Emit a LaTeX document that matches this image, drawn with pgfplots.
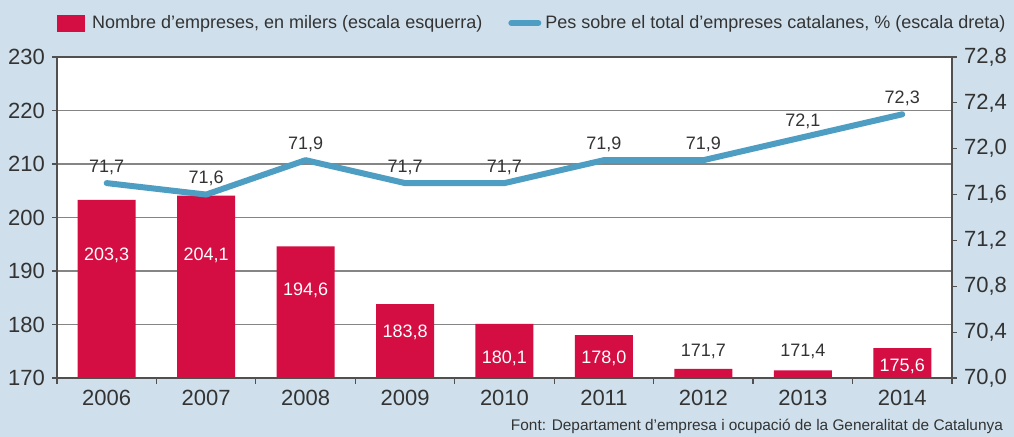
\documentclass[border=0pt]{standalone}
\usepackage{pgfplots}
\pgfplotsset{compat=1.18}
\usepackage{fontspec}
\setmainfont{Liberation Sans}

\definecolor{fons}{HTML}{CFE0EC}
\definecolor{vermell}{HTML}{D40D42}
\definecolor{blau}{HTML}{4E9DC2}
\definecolor{text}{HTML}{333333}
\definecolor{graella}{HTML}{858585}

% nombre d'empreses (milers)
\pgfplotstableread{
x y
0 203.3
1 204.1
2 194.6
3 183.8
4 180.1
5 178.0
6 171.7
7 171.4
8 175.6
}\empreses

% posicio de les etiquetes dins les barres
\pgfplotstableread{
x lab val
0 193.0 203.3
1 193.0 204.1
2 186.3 194.6
3 178.6 183.8
4 173.6 180.1
5 173.6 178.0
8 172.2 175.6
}\etiqdins

\pgfplotstableread{
x lab val
6 175.0 171.7
7 175.0 171.4
}\etiqfora

% pes sobre el total (%)
\pgfplotstableread{
x y
0 71.7
1 71.6
2 71.9
3 71.7
4 71.7
5 71.9
6 71.9
7 72.1
8 72.3
}\pes

\begin{document}
\begin{tikzpicture}[font=\fontsize{11}{13}\selectfont, text=text]
\fill[fons] (-28.5pt,-29.5pt) rectangle (478.5pt,189pt);
\pgfplotsset{comu/.style={
  width=447.5pt, height=160.5pt, scale only axis,
  xmin=-0.5, xmax=8.5,
  /pgf/number format/assume math mode=true,
  tick align=outside, major tick length=2.5pt,
  tick style={graella!60!black, line width=0.6pt},
  axis line style={graella!60!black, line width=0.6pt},
}}
\begin{axis}[comu,
  ymin=170, ymax=230, ytick={170,180,...,230},
  ymajorgrids, grid style={graella, line width=0.6pt},
  axis background/.style={fill=white},
  xtick={0,...,8},
  xticklabels={2006,2007,2008,2009,2010,2011,2012,2013,2014},
  major x tick style={draw=none},
  minor xtick={-0.5,0.5,...,8.5}, minor tick length=3pt,
  xtick pos=bottom, ytick pos=left,
]
\addplot[ybar, bar width=29pt, fill=vermell, draw=none] table[x=x, y=y] {\empreses};
\addplot[draw=none, mark=none, nodes near coords, point meta=explicit,
  every node near coord/.append style={anchor=center, text=white, font=\fontsize{9}{11}\selectfont},
  /pgf/number format/use comma, /pgf/number format/fixed,
  /pgf/number format/fixed zerofill, /pgf/number format/precision=1]
  table[x=x, y=lab, meta=val] {\etiqdins};
\addplot[draw=none, mark=none, nodes near coords, point meta=explicit,
  every node near coord/.append style={anchor=center, text=text, font=\fontsize{9}{11}\selectfont},
  /pgf/number format/use comma, /pgf/number format/fixed,
  /pgf/number format/fixed zerofill, /pgf/number format/precision=1]
  table[x=x, y=lab, meta=val] {\etiqfora};
\end{axis}

\begin{axis}[comu,
  ymin=70, ymax=72.8, ytick={70,70.4,70.8,71.2,71.6,72,72.4,72.8},
  axis y line*=right, axis x line=none,
  yticklabel style={/pgf/number format/.cd, use comma, fixed, fixed zerofill, precision=1},
  legend style={draw=none, fill=none, at={(0,1)}, anchor=west, xshift=-3pt, yshift=17pt,
    font=\fontsize{9}{11}\selectfont, legend columns=2,
    /tikz/every even column/.append style={column sep=11pt}},
  legend cell align=left,
]
\addlegendimage{legend image code/.code={\fill[vermell] (0pt,-4pt) rectangle (13.5pt,4pt); \path (15pt,0pt);}}
\addlegendentry{Nombre d’empreses, en milers (escala esquerra)}
\addlegendimage{legend image code/.code={\draw[blau, line width=3pt, line cap=round] (1.5pt,0pt) -- (15pt,0pt);}}
\addlegendentry{Pes sobre el total d’empreses catalanes, \% (escala dreta)}
\addplot[forget plot, blau, line width=3pt, line cap=round, line join=round,
  nodes near coords, point meta=y,
  every node near coord/.append style={anchor=south, yshift=-0.5pt, text=text, font=\fontsize{9}{11}\selectfont},
  /pgf/number format/use comma, /pgf/number format/fixed,
  /pgf/number format/fixed zerofill, /pgf/number format/precision=1]
  table[x=x, y=y] {\pes};
\end{axis}

\node[anchor=base east, font=\fontsize{7.7}{9}\selectfont] at (476.5pt,-26.5pt)
  {Font: Departament d’empresa i ocupació de la Generalitat de Catalunya};
\pgfresetboundingbox
\useasboundingbox (-28.5pt,-29.5pt) rectangle (478.5pt,189pt);
\end{tikzpicture}
\end{document}
